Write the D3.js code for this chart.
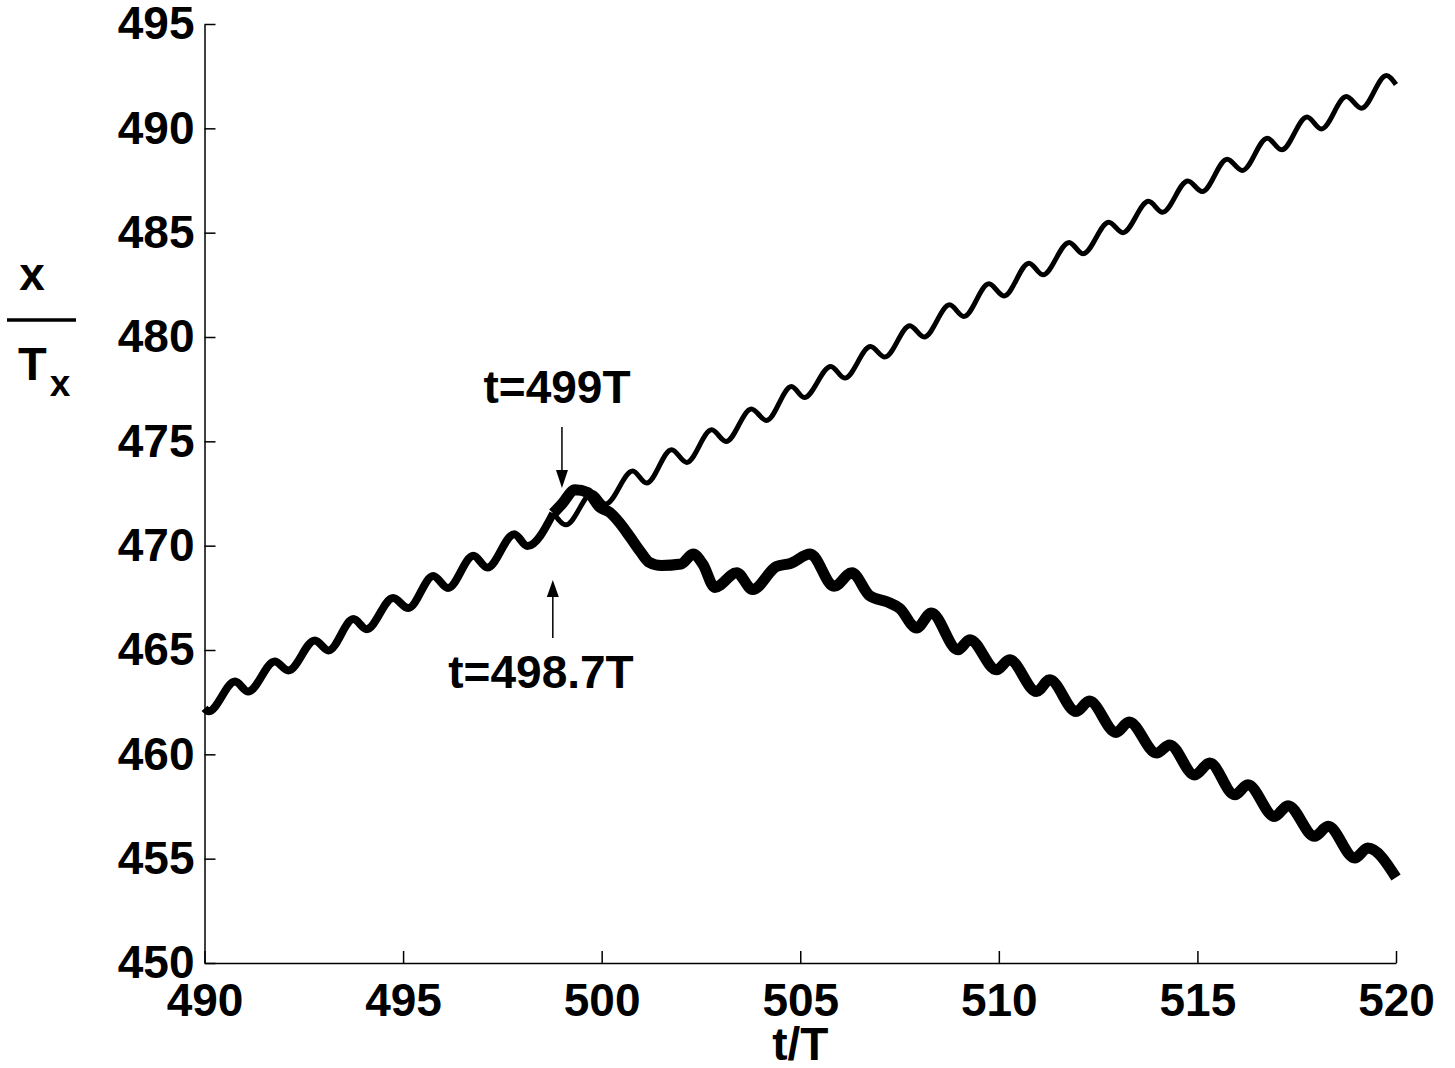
<!DOCTYPE html>
<html>
<head>
<meta charset="utf-8">
<script src="https://cdn.jsdelivr.net/npm/d3@7"></script>
<style>
  body { margin: 0; background: #fff; }
  text { font-family: "Liberation Sans", Arial, sans-serif; font-weight: bold; }
</style>
</head>
<body>
<script>
// shared trajectory before the split (t/T, x/Tx)
const commonT = [490.0, 490.1, 490.77, 491.1, 491.77, 492.11, 492.78, 493.12, 493.75, 494.08,
  494.75, 495.13, 495.76, 496.13, 496.77, 497.12, 497.8, 498.13, 498.78];
const commonX = [462.2, 462.06, 463.49, 463.01, 464.45, 464.02, 465.46, 464.98, 466.48, 466.0,
  467.49, 467.01, 468.55, 467.97, 469.52, 468.95, 470.55, 469.98, 471.55];

// thin branch, keeps drifting up
const thinT = [498.78, 499.1, 499.78, 500.1, 500.78, 501.13, 501.76, 502.14, 502.77, 503.13,
  503.77, 504.15, 504.78, 505.1, 505.77, 506.12, 506.77, 507.13, 507.76, 508.12,
  508.76, 509.12, 509.75, 510.13, 510.76, 511.11, 511.77, 512.12, 512.77, 513.12,
  513.77, 514.12, 514.76, 515.12, 515.75, 516.13, 516.76, 517.12, 517.76, 518.12,
  518.75, 519.13, 519.76, 520.0];
const thinX = [471.6, 471.0, 472.55, 472.0, 473.58, 473.0, 474.6, 473.99, 475.55, 474.99,
  476.55, 476.0, 477.63, 477.1, 478.59, 478.03, 479.54, 479.04, 480.54, 480.0,
  481.54, 480.98, 482.55, 481.97, 483.54, 482.98, 484.53, 483.99, 485.5, 485.0,
  486.5, 485.98, 487.48, 486.97, 488.52, 487.98, 489.53, 488.97, 490.54, 489.97,
  491.52, 490.96, 492.53, 492.1];

// thick branch, turns back down
const thickT = [498.78, 499.0, 499.33, 499.65, 499.95, 500.2, 500.45, 500.72, 500.98, 501.2,
  501.5, 502.0, 502.3, 502.55, 502.85, 503.4, 503.8, 504.4, 504.75, 505.25,
  505.85, 506.3, 506.75, 507.2, 507.5, 507.93, 508.3, 508.97, 509.27, 509.94,
  510.27, 510.95, 511.28, 511.95, 512.28, 512.95, 513.28, 513.97, 514.3, 514.93,
  515.31, 515.94, 516.27, 516.94, 517.28, 517.95, 518.29, 518.96, 519.29, 520.0];
const thickX = [471.55, 472.0, 472.68, 472.55, 471.85, 471.6, 471.1, 470.4, 469.7, 469.2,
  469.05, 469.12, 469.6, 469.1, 468.0, 468.7, 467.9, 469.0, 469.15, 469.6,
  468.05, 468.7, 467.6, 467.3, 467.0, 466.05, 466.77, 465.01, 465.49, 464.05,
  464.53, 463.01, 463.57, 462.05, 462.55, 461.05, 461.55, 460.06, 460.45, 459.01,
  459.58, 458.06, 458.54, 457.02, 457.54, 456.07, 456.55, 455.03, 455.51, 454.1];

const xTicks = [490, 495, 500, 505, 510, 515, 520];
const yTicks = [450, 455, 460, 465, 470, 475, 480, 485, 490, 495];

const width = 1455, height = 1068;
const margin = {left: 204.5, right: 59, top: 24, bottom: 105};

const svg = d3.select("body").append("svg")
    .attr("width", width)
    .attr("height", height);

const x = d3.scaleLinear().domain([490, 520]).range([margin.left, width - margin.right]);
const y = d3.scaleLinear().domain([450, 495]).range([height - margin.bottom, margin.top]);

const line = d3.line()
    .x(d => x(d[0]))
    .y(d => y(d[1]))
    .curve(d3.curveMonotoneX);

function drawSeries(ts, vs, w) {
  svg.append("path")
      .datum(d3.zip(ts, vs))
      .attr("fill", "none")
      .attr("stroke", "#000")
      .attr("stroke-width", w)
      .attr("stroke-linejoin", "round")
      .attr("d", line);
}

drawSeries(commonT, commonX, 8);
drawSeries(thickT, thickX, 11);
drawSeries(thinT, thinX, 5);

// axes, ticks pointing inward
const xAxis = svg.append("g")
    .attr("transform", `translate(0,${height - margin.bottom})`)
    .call(d3.axisBottom(x).tickValues(xTicks).tickSize(-12).tickSizeOuter(0).tickPadding(20));
const yAxis = svg.append("g")
    .attr("transform", `translate(${margin.left},0)`)
    .call(d3.axisLeft(y).tickValues(yTicks).tickSize(-11).tickSizeOuter(0).tickPadding(10));

[xAxis, yAxis].forEach(g => {
  g.select(".domain").attr("stroke-width", 1.5);
  g.selectAll(".tick line").attr("stroke-width", 1.5);
  g.selectAll(".tick text")
      .attr("fill", "#000")
      .style("font-size", "46px")
      .style("font-family", "'Liberation Sans', Arial, sans-serif")
      .style("font-weight", "bold");
});

// axis titles
svg.append("text")
    .attr("x", x(505)).attr("y", 1060)
    .attr("text-anchor", "middle")
    .style("font-size", "46px")
    .text("t/T");

svg.append("text")
    .attr("x", 32).attr("y", 290)
    .attr("text-anchor", "middle")
    .style("font-size", "46px")
    .text("x");
svg.append("line")
    .attr("x1", 7).attr("x2", 76)
    .attr("y1", 320).attr("y2", 320)
    .attr("stroke", "#000").attr("stroke-width", 3.5);
const tx = svg.append("text")
    .attr("x", 18).attr("y", 380)
    .style("font-size", "47px");
tx.append("tspan").text("T");
tx.append("tspan").attr("dx", 3).attr("dy", 16).style("font-size", "37px").text("x");

// annotations
svg.append("defs").append("marker")
    .attr("id", "head")
    .attr("viewBox", "0 0 12 18")
    .attr("refX", 6).attr("refY", 18)
    .attr("markerWidth", 12).attr("markerHeight", 18)
    .attr("markerUnits", "userSpaceOnUse")
    .attr("orient", "auto-start-reverse")
  .append("path")
    .attr("d", "M0,0L12,0L6,18Z")
    .attr("fill", "#000");

svg.append("text")
    .attr("x", 557).attr("y", 403)
    .attr("text-anchor", "middle")
    .style("font-size", "46px")
    .text("t=499T");
svg.append("line")
    .attr("x1", x(499)).attr("x2", x(499))
    .attr("y1", 427).attr("y2", 470)
    .attr("stroke", "#000").attr("stroke-width", 1.5);
svg.append("path")
    .attr("d", `M${x(499) - 6},470L${x(499) + 6},470L${x(499)},488Z`)
    .attr("fill", "#000");

svg.append("text")
    .attr("x", 541).attr("y", 688)
    .attr("text-anchor", "middle")
    .style("font-size", "46px")
    .text("t=498.7T");
svg.append("line")
    .attr("x1", x(498.77)).attr("x2", x(498.77))
    .attr("y1", 638).attr("y2", 597)
    .attr("stroke", "#000").attr("stroke-width", 1.5);
svg.append("path")
    .attr("d", `M${x(498.77) - 6},597L${x(498.77) + 6},597L${x(498.77)},580Z`)
    .attr("fill", "#000");
</script>
</body>
</html>
